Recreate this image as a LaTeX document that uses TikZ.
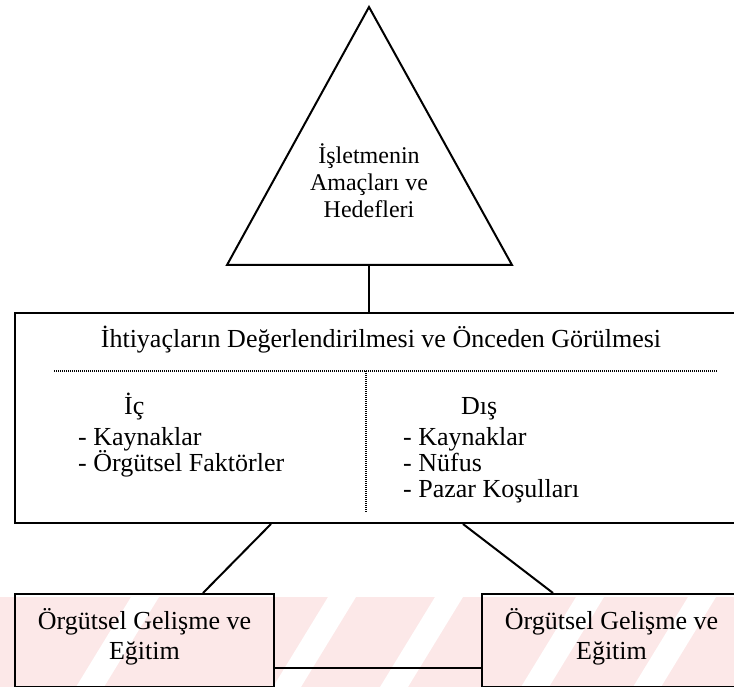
\documentclass[tikz,border=0pt]{standalone}
\usepackage{fontspec}
\setmainfont{Liberation Serif}
\usetikzlibrary{positioning}
\definecolor{wmpink}{HTML}{FCE8E8}

\begin{document}
\begin{tikzpicture}[x=1pt, y=-1pt,
  txt/.style={inner sep=0pt, font=\rmfamily\fontsize{26}{30}\selectfont},
  item/.style={txt, anchor=base west},
  box/.style={draw, line width=2pt, inner sep=0pt, align=center},
  divider/.style={line width=1.3pt, dash pattern=on 1pt off 1pt},
  conn/.style={line width=2pt}]
\useasboundingbox (0,0) rectangle (734,687);
% watermark band at the foot of the page
\fill[wmpink] (0,597) rectangle (734,687);
\fill[white] (131,597) -- ++(28,0) -- ++(-55,90) -- ++(-28,0) -- cycle
  (328,597) -- ++(28,0) -- ++(-55,90) -- ++(-28,0) -- cycle
  (435,597) -- ++(28,0) -- ++(-55,90) -- ++(-28,0) -- cycle
  (576,597) -- ++(28,0) -- ++(-55,90) -- ++(-28,0) -- cycle
  (688,597) -- ++(28,0) -- ++(-55,90) -- ++(-28,0) -- cycle;
% goals
\draw[conn, line join=miter] (369,7) coordinate (apex) -- (512,265) coordinate (baseR) -- (227,265) coordinate (baseL) -- cycle;
\node[txt, align=center, font=\fontsize{24}{27}\selectfont] (goals) at (369,181) {İşletmenin\\Amaçları ve\\Hedefleri};
% needs box
\node[box, anchor=north west, minimum width=726pt, minimum height=210pt] (needs) at (14,312) {};
\node[txt, anchor=base] (needstitle) at (381,347) {İhtiyaçların Değerlendirilmesi ve Önceden Görülmesi};
\draw[divider] (54,371) -- (718,371);
\draw[divider] (366,371) -- (366,512);
\node[item] (ic) at (124,414) {İç};
\node[item] (dis) at (461,414) {Dış};
\node[item] (icA) at (78,445) {\mbox{-} Kaynaklar};
\node[item] (icB) at (78,471) {\mbox{-} Örgütsel Faktörler};
\node[item] (disA) at (403,445) {\mbox{-} Kaynaklar};
\node[item] (disB) at (403,471) {\mbox{-} Nüfus};
\node[item] (disC) at (403,497) {\mbox{-} Pazar Koşulları};
% development boxes
\node[box, anchor=north west, minimum width=259pt, minimum height=93pt] (devL) at (14,593) {};
\node[txt, align=center] (devLtext) at ([yshift=4pt]devL.center) {Örgütsel Gelişme ve\\Eğitim};
\node[box, anchor=north west, minimum width=259pt, minimum height=93pt] (devR) at (481,593) {};
\node[txt, align=center] (devRtext) at ([yshift=4pt]devR.center) {Örgütsel Gelişme ve\\Eğitim};
% connectors
\draw[conn] (goals |- baseL) -- (goals |- needs.north);
\draw[conn] ([xshift=257pt]needs.south west) -- ([xshift=189pt]devL.north west);
\draw[conn] ([xshift=449pt]needs.south west) -- ([xshift=72pt]devR.north west);
\draw[conn] ([yshift=-75pt]devL.north east) -- ([yshift=-75pt]devR.north west);
\end{tikzpicture}
\end{document}
